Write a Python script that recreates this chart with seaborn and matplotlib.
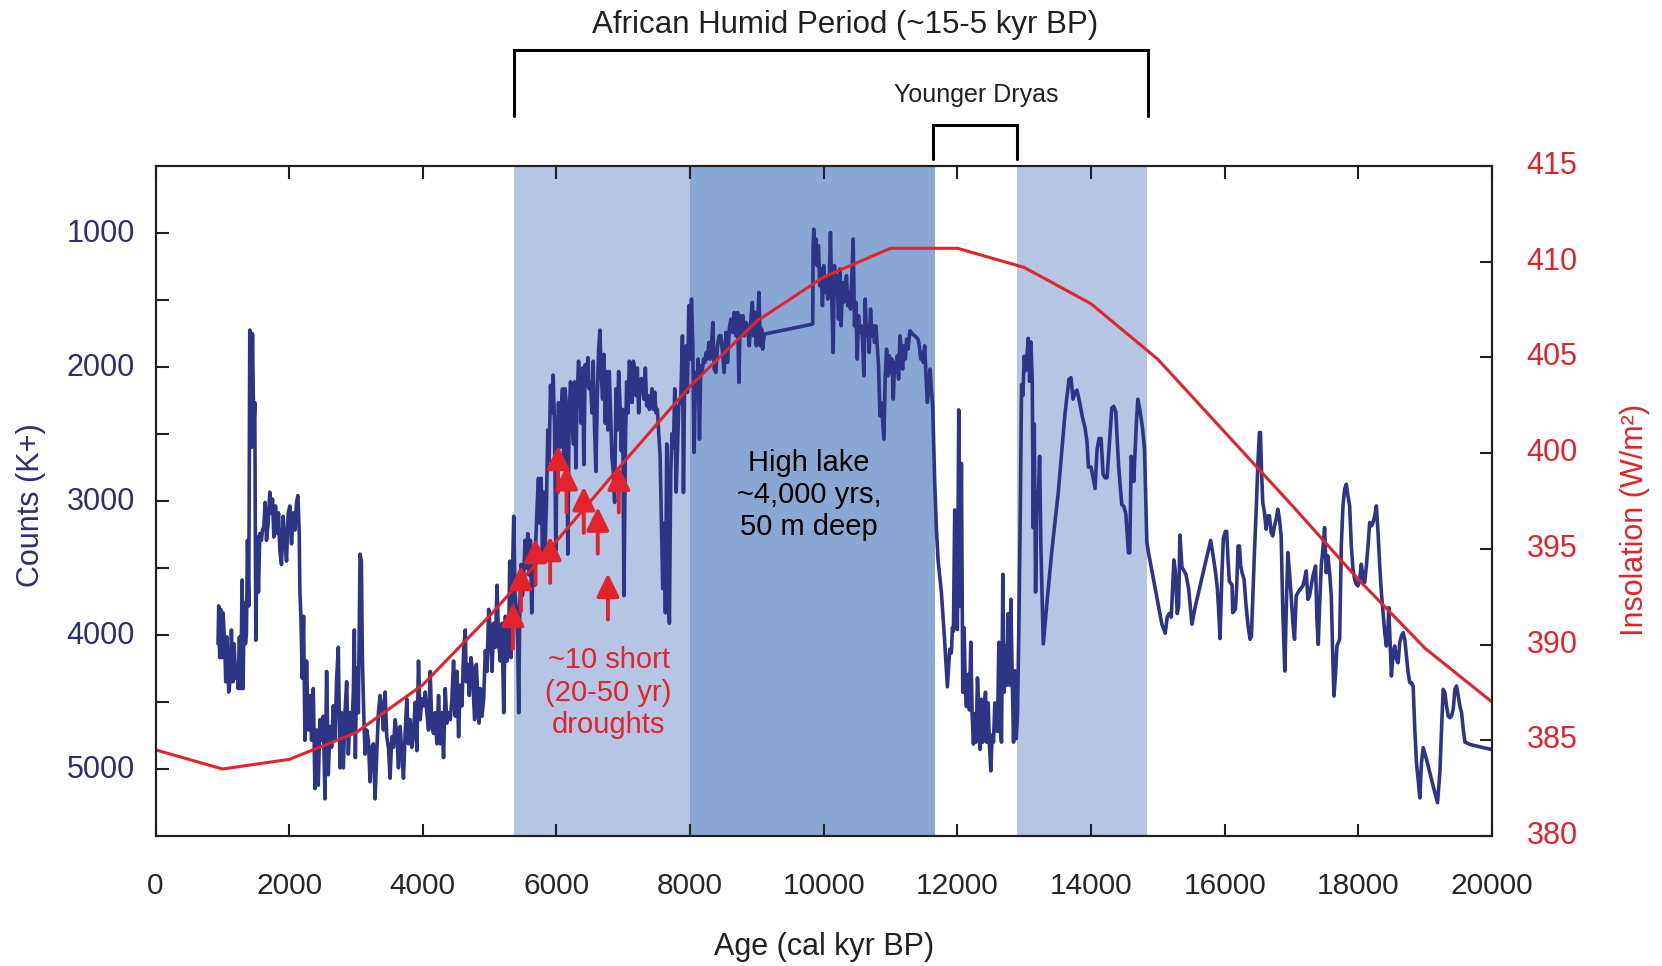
import matplotlib
matplotlib.use("Agg")
import matplotlib.pyplot as plt
from matplotlib.transforms import ScaledTranslation
import seaborn as sns

# ---------------------------------------------------------------
# K+ counts (age in cal yr BP)
# ---------------------------------------------------------------
age_late_holocene = [
    935, 945, 960, 975, 995, 1010, 1035, 1050, 1070, 1095,
    1120, 1135, 1160, 1175, 1200, 1220, 1235, 1255, 1275, 1295,
    1310, 1325, 1345, 1360, 1375, 1395, 1410, 1435, 1450, 1470,
    1485, 1500, 1520, 1540, 1560, 1585, 1600, 1620, 1640, 1660,
    1685, 1710, 1730, 1750, 1770, 1795, 1820, 1840, 1860, 1885,
    1910, 1935, 1960, 1985, 2010, 2035, 2060, 2085, 2110, 2130,
    2150, 2160, 2175, 2195, 2215, 2235, 2260, 2285, 2310, 2335,
    2360, 2385, 2410, 2435, 2460, 2485, 2510, 2535, 2560, 2585,
    2610, 2635, 2660, 2685, 2710, 2735, 2760, 2785, 2810, 2835,
    2860, 2885, 2910, 2935, 2960, 2975, 2990, 3010, 3035, 3060,
    3080, 3095, 3115, 3135, 3160, 3185, 3210, 3235, 3260, 3285,
    3310, 3335, 3360, 3385, 3410, 3435, 3460, 3485, 3510, 3535,
    3560, 3585, 3610, 3635, 3660, 3685, 3710, 3735, 3760, 3785,
    3810, 3835, 3860, 3885, 3910, 3935, 3960, 3985, 4010, 4035,
    4060, 4085, 4110, 4135, 4160, 4185, 4210, 4235, 4260, 4285,
    4310, 4335, 4360, 4385, 4410, 4435, 4460, 4485, 4510, 4535]
k_late_holocene = [
    4066, 3783, 4169, 3809, 4169, 3835, 4066, 4349, 4015, 4426,
    4323, 3963, 4349, 4066, 4323, 4246, 4400, 4015, 4400, 3590,
    4400, 3757, 4066, 3989, 3294, 3783, 1725, 2600, 1751, 2471,
    2266, 4040, 3269, 3680, 3243, 3294, 3217, 3192, 3011, 3294,
    3166, 2934, 3089, 2986, 3269, 3037, 3243, 3089, 3372, 3474,
    3114, 3294, 3449, 3089, 3037, 3320, 3089, 3217, 3011, 2960,
    3243, 3680, 3860, 4323, 3860, 4786, 4195, 4709, 4452, 4786,
    4400, 5146, 4709, 5121, 4632, 4786, 4606, 5223, 4272, 5043,
    4683, 4838, 4529, 4786, 4323, 4092, 4992, 4580, 4992, 4580,
    4349, 4889, 4580, 4735, 4426, 3963, 4915, 4246, 4580, 3397,
    3449, 4169, 4580, 4889, 4709, 4786, 5095, 4838, 4812, 5223,
    4889, 4580, 4452, 4529, 4709, 4426, 4760, 4838, 5069, 4760,
    4838, 4632, 4735, 4992, 4683, 4863, 5069, 4735, 4478, 4812,
    4632, 4838, 4735, 4503, 4863, 4195, 4632, 4478, 4529, 4426,
    4580, 4709, 4272, 4683, 4735, 4580, 4812, 4452, 4812, 4580,
    4915, 4400, 4658, 4580, 4632, 4478, 4195, 4606, 4272, 4760]

age_mid_holocene = [
    4560, 4585, 4610, 4635, 4650, 4670, 4695, 4720, 4745, 4760,
    4775, 4800, 4820, 4840, 4860, 4885, 4910, 4935, 4960, 4985,
    5010, 5035, 5060, 5085, 5110, 5135, 5160, 5185, 5210, 5235,
    5260, 5285, 5300, 5320, 5340, 5360, 5380, 5400, 5420, 5435,
    5450, 5470, 5490, 5510, 5530, 5550, 5570, 5590, 5610, 5630,
    5650, 5670, 5690, 5710, 5730, 5750, 5770, 5790, 5810, 5830,
    5850, 5870, 5890, 5910, 5930, 5950, 5970, 5990, 6010, 6030,
    6050, 6070, 6090, 6110, 6130, 6150, 6170, 6190, 6210, 6230,
    6250, 6270, 6290, 6310, 6330, 6350, 6370, 6390, 6410, 6430,
    6450, 6470, 6490, 6510, 6530, 6550, 6570, 6590, 6610, 6630,
    6650, 6670, 6690, 6710, 6730, 6750, 6770, 6790, 6810, 6830,
    6850, 6870, 6890, 6910, 6930, 6950, 6970, 6990, 7010, 7030,
    7050, 7070, 7090, 7110, 7130, 7150, 7170, 7190, 7210, 7230,
    7250, 7270, 7290, 7310, 7330, 7350, 7370, 7390, 7410, 7430,
    7450, 7470, 7490, 7510, 7530, 7550, 7570, 7590, 7610, 7630,
    7650, 7670, 7690, 7710, 7730, 7750, 7770, 7790, 7810, 7830,
    7850]
k_mid_holocene = [
    4375, 4529, 4117, 3963, 4349, 4220, 4452, 4169, 4272, 4478,
    4632, 4220, 4426, 4658, 4400, 4606, 4478, 4117, 4272, 3809,
    3963, 4272, 3912, 4092, 3629, 4066, 4195, 3912, 4580, 3860,
    4195, 4040, 3449, 4169, 3577, 3114, 3706, 3809, 4066, 4580,
    3809, 3474, 3706, 3552, 3294, 3500, 3243, 3552, 3294, 3835,
    3423, 3629, 3294, 3037, 2831, 3166, 2831, 3397, 2934, 3346,
    3011, 2471, 2703, 2137, 2343, 2060, 2420, 3372, 2574, 2266,
    2600, 2343, 2163, 2729, 2163, 2317, 3397, 2343, 2111, 2343,
    2574, 2111, 2754, 2214, 1957, 2137, 2420, 2008, 2729, 1983,
    2137, 1931, 2163, 2111, 2343, 1957, 2471, 2780, 2240, 1880,
    1725, 2060, 2240, 1906, 2420, 2034, 2471, 2034, 2343, 2677,
    2780, 3011, 2163, 2471, 2034, 2266, 2626, 2317, 3706, 2626,
    2111, 2343, 1957, 2034, 2266, 1957, 2008, 2214, 2008, 2343,
    2137, 2086, 2163, 2240, 2008, 2291, 2214, 2317, 2266, 2163,
    2317, 2188, 2343, 2317, 2497, 2651, 3140, 3654, 3166, 3835,
    2574, 3552, 3912, 2780, 2497, 2600, 2163, 2934, 2626, 2291,
    2266]

age_early_holocene = [
    7860, 7885, 7900, 7920, 7940, 7960, 7980, 8000, 8020, 8040,
    8060, 8080, 8100, 8120, 8140, 8160, 8180, 8200, 8220, 8240,
    8260, 8280, 8300, 8320, 8340, 8360, 8385, 8410, 8435, 8460,
    8485, 8510, 8535, 8560, 8585, 8610, 8635, 8660, 8685, 8710,
    8730, 8750, 8770, 8790, 8810, 8835, 8860, 8885, 8910, 8930,
    8950, 8970, 8990, 9010, 9030, 9050, 9070, 9085, 9110, 9835,
    9840, 9850, 9870, 9885, 9900, 9920, 9940, 9960, 9980, 10000,
    10020, 10040, 10060, 10080, 10100, 10120, 10140, 10160, 10180, 10200,
    10220, 10240, 10260, 10280, 10300, 10320, 10340, 10360, 10380, 10400,
    10420, 10440, 10460, 10480, 10500, 10520, 10540, 10560, 10580, 10600,
    10620, 10640, 10660, 10680, 10700, 10720, 10740, 10760, 10780, 10800,
    10820, 10840, 10860, 10880, 10900, 10920, 10940, 10960, 10980, 11000,
    11020, 11040, 11060, 11080, 11100, 11120, 11140, 11160, 11180, 11200,
    11220, 11240, 11260, 11290, 11330, 11360, 11410, 11430, 11450, 11470,
    11490, 11510, 11530, 11550, 11570, 11590, 11610, 11630]
k_early_holocene = [
    2240, 1767, 2937, 1991, 1842, 2190, 1543, 1941, 1493, 1842,
    2638, 2041, 2240, 1941, 2539, 1991, 2041, 1941, 1966, 1892,
    1941, 1817, 1941, 1842, 1668, 2016, 2041, 1842, 1767, 1767,
    1892, 2041, 1742, 1966, 1717, 1643, 1742, 1593, 1767, 1593,
    2116, 1618, 1742, 1618, 1767, 1668, 1693, 1842, 1643, 1518,
    1767, 1593, 1842, 1668, 1444, 1842, 1717, 1867, 1755, 1680,
    1120, 971, 1220, 1045, 1244, 1095, 1394, 1269, 1543, 1244,
    1444, 1344, 1493, 1394, 996, 1493, 1892, 1244, 1444, 1319,
    1643, 1269, 1693, 1369, 1518, 1394, 1319, 1543, 1444, 1568,
    1319, 1045, 1693, 1518, 1941, 1618, 1742, 1693, 1792, 2066,
    1493, 1767, 1693, 1892, 1568, 1767, 1693, 1817, 1693, 1842,
    1991, 2365, 2265, 2389, 2539, 2066, 1867, 2066, 1917, 2041,
    1941, 2240, 1966, 2041, 1917, 2091, 1767, 1867, 2016, 1842,
    1941, 1792, 1867, 1730, 1755, 1767, 1792, 1842, 1941, 1892,
    1966, 1842, 2066, 2265, 2165, 2016, 2165, 2290]

age_deglacial = [
    11660, 11685, 11710, 11760, 11810, 11850, 11885, 11910, 11925, 11940,
    11960, 11980, 12000, 12020, 12040, 12060, 12080, 12100, 12120, 12135,
    12160, 12180, 12200, 12220, 12240, 12260, 12280, 12300, 12320, 12340,
    12360, 12380, 12400, 12420, 12440, 12460, 12480, 12500, 12520, 12540,
    12560, 12580, 12600, 12620, 12640, 12660, 12680, 12700, 12720, 12740,
    12760, 12780, 12800, 12820, 12840, 12860, 12880, 12900, 12920, 12940,
    12960, 12980, 13000, 13020, 13040, 13060, 13080, 13100, 13120, 13135,
    13150, 13170, 13190, 13210, 13230, 13250, 13285, 13335, 13410, 13510,
    13610, 13670, 13700, 13730, 13760, 13790, 13830, 13870, 13910, 13940,
    13960, 14000, 14030, 14060, 14090, 14120, 14150, 14180, 14210, 14240,
    14280, 14310, 14340, 14370, 14410, 14435, 14460, 14490, 14520, 14560,
    14580, 14600, 14620, 14640, 14660, 14680, 14700, 14730, 14770, 14800,
    14835, 14860, 14910, 14960, 15010, 15060, 15110, 15140, 15170, 15200,
    15240, 15260, 15290, 15310, 15330, 15360, 15390, 15420, 15460, 15510,
    15560, 15610, 15660, 15710, 15760, 15790, 15820, 15860, 15890, 15910,
    15930, 15960, 15980, 16010, 16030, 16050, 16070, 16110]
k_deglacial = [
    2854, 3200, 3440, 3680, 4054, 4387, 4107, 4134, 3947, 3974,
    3067, 3947, 3960, 2320, 3787, 2720, 4427, 3947, 4427, 4534,
    4294, 4560, 4054, 4587, 4814, 4587, 4800, 4320, 4534, 4854,
    4480, 4800, 4587, 4427, 4800, 4507, 4827, 5014, 4747, 4800,
    4507, 4614, 4720, 4054, 4694, 4800, 3547, 4427, 4080, 4374,
    3840, 4374, 3734, 4320, 4800, 4267, 4774, 4587, 3920, 3120,
    2133, 2213, 1920, 2027, 1920, 1787, 2107, 1813, 2107, 3200,
    2427, 3680, 2934, 2987, 2667, 3360, 4067, 3787, 3387, 2934,
    2347, 2093, 2080, 2240, 2187, 2173, 2267, 2373, 2454, 2560,
    2747, 2747, 2827, 2907, 2614, 2534, 2534, 2800, 2827, 2827,
    2534, 2307, 2294, 2334, 2720, 2880, 3027, 3040, 3094, 3387,
    3387, 2667, 2720, 2854, 2614, 2400, 2240, 2320, 2454, 2614,
    3307, 3387, 3520, 3654, 3787, 3920, 3987, 3867, 3840, 3867,
    3440, 3520, 3840, 3787, 3254, 3494, 3520, 3547, 3654, 3920,
    3787, 3680, 3574, 3467, 3360, 3294, 3387, 3520, 3654, 3814,
    4027, 3520, 3280, 3227, 3227, 3440, 3600, 3627]

age_glacial = [
    16120, 16160, 16180, 16200, 16220, 16240, 16260, 16290, 16320, 16350,
    16380, 16400, 16420, 16445, 16470, 16495, 16520, 16535, 16550, 16570,
    16595, 16620, 16645, 16670, 16695, 16720, 16745, 16770, 16795, 16820,
    16845, 16870, 16900, 16920, 16945, 16970, 16995, 17020, 17045, 17070,
    17095, 17130, 17170, 17195, 17220, 17245, 17270, 17295, 17320, 17360,
    17380, 17400, 17420, 17445, 17470, 17495, 17520, 17545, 17570, 17595,
    17620, 17635, 17660, 17680, 17720, 17745, 17770, 17795, 17820, 17845,
    17870, 17895, 17920, 17945, 17970, 17995, 18020, 18045, 18070, 18095,
    18120, 18145, 18170, 18195, 18220, 18245, 18270, 18295, 18320, 18345,
    18370, 18395, 18420, 18445, 18455, 18470, 18495, 18520, 18545, 18570,
    18595, 18620, 18645, 18670, 18695, 18720, 18745, 18770, 18795, 18820,
    18845, 18870, 18895, 18920, 18945, 18970, 19020, 19070, 19120, 19185,
    19220, 19245, 19270, 19295, 19320, 19345, 19370, 19395, 19420, 19445,
    19470, 19495, 19520, 19545, 19570, 19595, 19670, 19770, 19870, 19995]
k_glacial = [
    3833, 3808, 3634, 3336, 3336, 3485, 3535, 3584, 3784, 3933,
    4032, 4008, 3734, 3385, 3087, 2738, 2489, 2489, 2763, 3012,
    3087, 3211, 3111, 3111, 3236, 3261, 3186, 3136, 3062, 3136,
    3261, 3833, 4269, 3833, 3385, 3535, 3709, 3908, 4032, 3709,
    3684, 3659, 3634, 3584, 3522, 3734, 3709, 3634, 3560, 3485,
    3883, 4070, 3784, 3485, 3360, 3199, 3535, 3410, 3535, 3709,
    4207, 4456, 4281, 4082, 4032, 3336, 3037, 2912, 2875, 2962,
    3037, 3336, 3510, 3584, 3622, 3634, 3584, 3472, 3584, 3609,
    3485, 3336, 3161, 3186, 3161, 3111, 3037, 3236, 3485, 3684,
    3833, 3983, 4082, 3933, 3796, 3983, 4306, 4132, 4082, 4182,
    4207, 4057, 4008, 3983, 4032, 4157, 4281, 4356, 4356, 4381,
    4704, 4953, 5078, 5215, 4953, 4841, 4928, 5028, 5128, 5252,
    5028, 4704, 4406, 4431, 4530, 4605, 4617, 4605, 4555, 4406,
    4381, 4456, 4530, 4580, 4704, 4799, 4817, 4829, 4841, 4854]

# summer insolation (W/m2), one value per 1000 yr
insol_age = [0, 1000, 2000, 3000, 4000, 5000, 6000, 7000, 8000, 9000, 10000,
             11000, 12000, 13000, 14000, 15000, 16000, 17000, 18000, 19000, 20000]
insol_wm2 = [384.5, 383.5, 384.0, 385.4, 387.9, 391.5, 395.4, 399.5, 403.5, 406.9, 409.2,
             410.7, 410.7, 409.7, 407.8, 404.9, 401.1, 397.3, 393.4, 389.8, 387.0]

# drought arrows: age, arrow tip, arrow tail (K+ counts)
drought_age = [5348, 5468, 5687, 5905, 6024, 6150, 6408, 6618, 6770, 6933]
drought_tip = [3757, 3481, 3280, 3265, 2586, 2737, 2893, 3045, 3540, 2741]
drought_tail = [4102, 3823, 3625, 3611, 2935, 3085, 3238, 3394, 3885, 3085]

# shaded periods and brackets (age)
band_spans = [(5370, 8000), (8000, 11670), (12890, 14830)]
ahp_span = (5360, 14850)
yd_span = (11640, 12890)

NAVY = "#2E3587"
NAVY_TXT = "#2B2E72"
RED = "#E3232B"
LIGHT = "#B5C5E4"
DARK = "#89A7D3"
INK = "#231F20"
band_colors = [LIGHT, DARK, LIGHT]

ages_k = age_late_holocene + age_mid_holocene + age_early_holocene + age_deglacial + age_glacial
counts_k = k_late_holocene + k_mid_holocene + k_early_holocene + k_deglacial + k_glacial
assert len(ages_k) == len(counts_k), (len(ages_k), len(counts_k))

sns.set_style("ticks")
plt.rcParams['font.family'] = ['Liberation Sans', 'DejaVu Sans']

fig, ax = plt.subplots(figsize=(16.62, 9.66), dpi=100)
fig.subplots_adjust(left=0.0936, right=0.8977, top=0.8282, bottom=0.1346)

for (x0, x1), c in zip(band_spans, band_colors):
    ax.axvspan(x0, x1, color=c, lw=0, zorder=0)

sns.lineplot(x=ages_k, y=counts_k, ax=ax, color=NAVY, lw=2.6,
             sort=False, estimator=None, errorbar=None, zorder=2)

ax.set_xlim(0, 20000)
ax.set_ylim(5500, 500)
ax.set_xticks(list(range(0, 20001, 2000)))
ax.set_yticks([1000, 2000, 3000, 4000, 5000])
ax.set_yticks([1500, 2500, 3500, 4500], minor=True)
ax.tick_params(axis='x', direction='in', top=True, length=9, width=1.5,
               color=INK, labelsize=21.5, pad=26)
ax.tick_params(axis='y', which='both', direction='in', length=9, width=1.5,
               color=INK, labelsize=22, labelcolor=NAVY_TXT, pad=15, right=False)

# drought arrows
for x, y1, y0 in zip(drought_age, drought_tip, drought_tail):
    ax.annotate('', xy=(x, y1), xytext=(x, y0),
                arrowprops=dict(arrowstyle='-|>,head_length=0.7,head_width=0.34',
                                color=RED, lw=2.8, shrinkA=0, shrinkB=0,
                                mutation_scale=20), zorder=4)

ax.text(9780, 2955, "High lake\n~4,000 yrs,\n50 m deep", ha='center', va='center',
        ma='center', fontsize=21, color='black', linespacing=1.2)
ax.text(6780, 4430, "~10 short\n(20-50 yr)\ndroughts", ha='center', va='center',
        ma='center', fontsize=21, color=RED, linespacing=1.2)

# brackets above the axes (x in data, y in axes fraction)
trans = ax.get_xaxis_transform()
ax.plot([ahp_span[0], ahp_span[0], ahp_span[1], ahp_span[1]], [1.075, 1.173, 1.173, 1.075],
        transform=trans, clip_on=False, color='black', lw=2.2, solid_joinstyle='miter')
ax.plot([yd_span[0], yd_span[0], yd_span[1], yd_span[1]], [1.0104, 1.0612, 1.0612, 1.0104],
        transform=trans, clip_on=False, color='black', lw=2.2, solid_joinstyle='miter')
ax.text(10320, 1.198, "African Humid Period (~15-5 kyr BP)", transform=trans,
        ha='center', va='baseline', fontsize=22.5, color=INK)
ax.text(12280, 1.096, "Younger Dryas", transform=trans,
        ha='center', va='baseline', fontsize=18, color=INK)

ax.set_xlabel("Age (cal kyr BP)", fontsize=22, color=INK)
ax.xaxis.set_label_coords(0.5, -0.144)
ax.set_ylabel("Counts (K+)", fontsize=22, color=NAVY_TXT)
ax.yaxis.set_label_coords(-0.082, 0.4945)

# insolation on the right axis
ax2 = ax.twinx()
sns.lineplot(x=insol_age, y=insol_wm2, ax=ax2, color=RED, lw=2.2,
             sort=False, estimator=None, errorbar=None)
ax2.set_ylim(380, 415)
ax2.set_yticks(list(range(380, 416, 5)))
ax2.tick_params(axis='y', direction='in', length=9, width=1.5, color=INK,
                labelsize=22, labelcolor=RED, pad=25)
ax2.set_ylabel("Insolation (W/m²)", fontsize=22, color=RED)
ax2.yaxis.set_label_coords(1.096, 0.471)
ax.set_xlim(0, 20000)

# tick labels sit a few pixels above their ticks in the original
for lab in ax2.get_yticklabels():
    lab.set_transform(lab.get_transform() + ScaledTranslation(0, 3.5 / 100, fig.dpi_scale_trans))
for lab in ax.get_yticklabels():
    lab.set_transform(lab.get_transform() + ScaledTranslation(0, 2 / 100, fig.dpi_scale_trans))

for a in (ax, ax2):
    for sp in a.spines.values():
        sp.set_linewidth(1.5)
        sp.set_color(INK)

fig.savefig("out.png", dpi=100)
